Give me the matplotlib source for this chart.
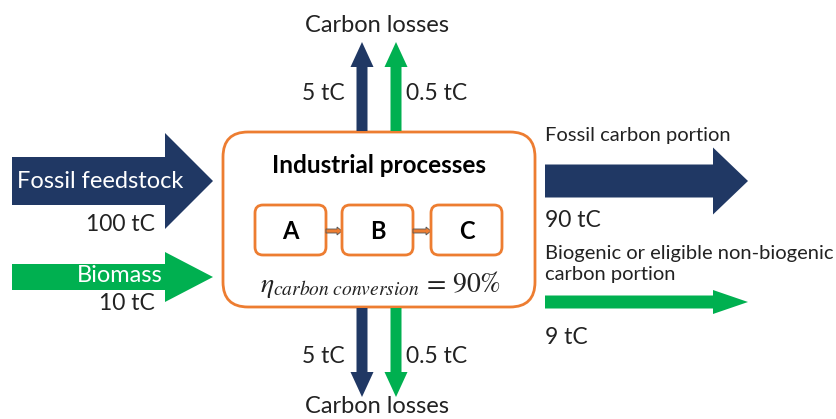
import matplotlib.pyplot as plt
from matplotlib.patches import FancyArrow, FancyBboxPatch

plt.rcParams['font.family'] = ['Lato', 'DejaVu Sans']
plt.rcParams['mathtext.fontset'] = 'stix'

# flows (tC)
fossil_in = 100
bio_in = 10
loss_fossil = 5
loss_bio = 0.5
fossil_out = 90
bio_out = 9
efficiency = 90
steps = ['A', 'B', 'C']

navy = '#203864'
green = '#00B050'
orange = '#ED7D31'
txt = '#222222'

fig = plt.figure(figsize=(8.37, 4.19), dpi=100)
ax = fig.add_axes([0, 0, 1, 1])
ax.set_xlim(0, 837)
ax.set_ylim(419, 0)
ax.axis('off')


def arrow(x, y, dx, dy, w, hw, hl, color, **kw):
    ax.add_patch(FancyArrow(x, y, dx, dy, width=w, head_width=hw, head_length=hl,
                            length_includes_head=True, color=color, lw=0, **kw))


def tc(v):
    return ('%g tC' % v)


# inputs
arrow(12, 181, 201, 0, 48, 96, 48, navy)
ax.text(183, 181, 'Fossil feedstock', color='white', fontsize=17, ha='right', va='center')
ax.text(155, 224, tc(fossil_in), fontsize=16.5, ha='right', va='center', color=txt)

arrow(12, 277, 201, 0, 26, 50, 48, green)
ax.text(163, 275, 'Biomass', color='white', fontsize=17, ha='right', va='center')
ax.text(155, 303, tc(bio_in), fontsize=16.5, ha='right', va='center', color=txt)

# main box
ax.add_patch(FancyBboxPatch((223, 132), 312, 175, boxstyle='round,pad=0,rounding_size=25',
                            fc='white', ec=orange, lw=2))
ax.text(379, 165, 'Industrial processes', fontsize=17.5, fontweight='bold', ha='center', va='center')

bx = [255, 342, 431]
for i, s in enumerate(steps):
    ax.add_patch(FancyBboxPatch((bx[i], 205), 71, 50, boxstyle='round,pad=0,rounding_size=8',
                                fc='white', ec=orange, lw=2))
    ax.text(bx[i] + 35.5, 231, s, fontsize=17, fontweight='bold', ha='center', va='center')
    if i < len(steps) - 1:
        ax.add_patch(FancyArrow(bx[i] + 71, 231, bx[i + 1] - bx[i] - 71, 0, width=4, head_width=8,
                                head_length=5, length_includes_head=True, fc=orange, ec='#555555', lw=0.6))

ax.text(381, 284, r'$\eta_{carbon\ conversion}$ = %d%%' % efficiency, fontsize=20,
        ha='center', va='center', family='STIXGeneral', color=txt)

# losses top
arrow(362, 131, 0, -89, 11, 23, 25, navy)
arrow(396, 131, 0, -89, 11, 23, 25, green)
ax.text(377, 26, 'Carbon losses', fontsize=17, ha='center', va='center', color=txt)
ax.text(345, 94, tc(loss_fossil), fontsize=16.5, ha='right', va='center', color=txt)
ax.text(406, 94, tc(loss_bio), fontsize=16.5, ha='left', va='center', color=txt)

# losses bottom
arrow(362, 308, 0, 89, 11, 23, 25, navy)
arrow(396, 308, 0, 89, 11, 23, 25, green)
ax.text(377, 406, 'Carbon losses', fontsize=17, ha='center', va='center', color=txt)
ax.text(345, 356, tc(loss_fossil), fontsize=16.5, ha='right', va='center', color=txt)
ax.text(406, 356, tc(loss_bio), fontsize=16.5, ha='left', va='center', color=txt)

# outputs
arrow(545, 181, 203, 0, 33, 67, 35, navy)
ax.text(545, 135, 'Fossil carbon portion', fontsize=14.5, ha='left', va='center', color=txt)
ax.text(545, 220, tc(fossil_out), fontsize=16.5, ha='left', va='center', color=txt)

arrow(545, 302, 203, 0, 13, 24, 35, green)
ax.text(545, 264, 'Biogenic or eligible non-biogenic\ncarbon portion', fontsize=14.5, ha='left',
        va='center', color=txt, linespacing=1.3)
ax.text(545, 337, tc(bio_out), fontsize=16.5, ha='left', va='center', color=txt)

fig.savefig('out.png', dpi=100)
